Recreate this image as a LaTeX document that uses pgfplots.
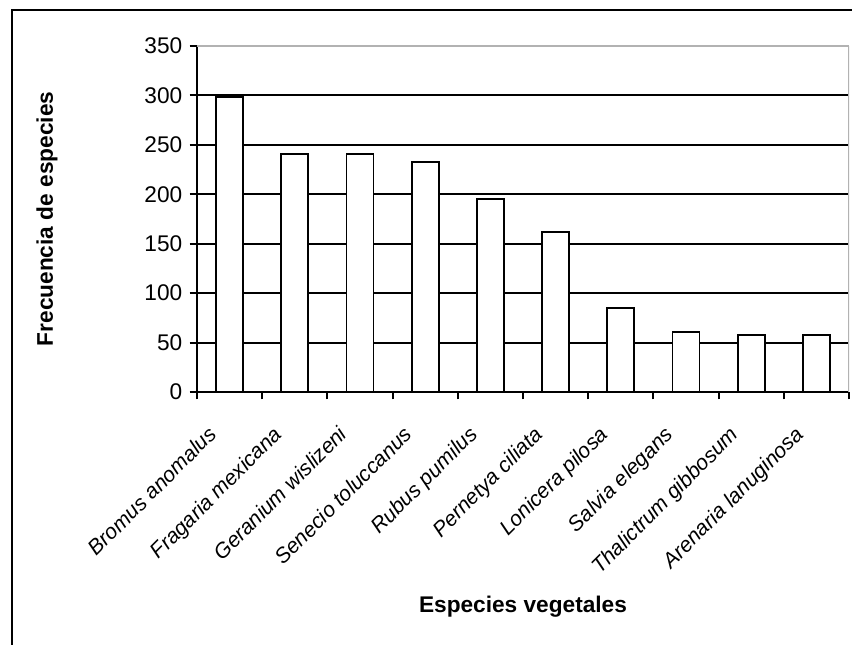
\documentclass[border=0pt]{standalone}
\usepackage{pgfplots}
\pgfplotsset{compat=1.18}
\usepackage{fontspec}
\setmainfont{Liberation Sans}
\begin{document}
\begin{tikzpicture}
\useasboundingbox (0pt,0pt) rectangle (639pt,-483.75pt);
\draw[line width=1.5pt] (9pt,-483.75pt) -- (9pt,-7.5pt) -- (639pt,-7.5pt);
\begin{axis}[
  at={(147.75pt,-294pt)}, anchor=south west,
  scale only axis, width=489pt, height=259.5pt,
  ybar, bar width=20.25pt,
  xmin=-0.5, xmax=9.5, ymin=0, ymax=350,
  axis x line*=bottom, axis y line*=left,
  axis line style={black, line width=1.4pt},
  /pgf/number format/assume math mode=true,
  ytick={0,50,...,300},
  extra y ticks={350},
  extra y tick style={grid style={gray!60, line width=1pt}},
  ymajorgrids, grid style={black, line width=1.4pt},
  tick align=outside, major tick length=5.5pt,
  tick style={black, line width=1.4pt},
  xtick={-0.5,0.5,...,9.5}, xticklabels={},
  extra x ticks={0,1,...,9},
  extra x tick labels={Bromus anomalus,Fragaria mexicana,Geranium wislizeni,Senecio toluccanus,Rubus pumilus,Pernetya ciliata,Lonicera pilosa,Salvia elegans,Thalictrum gibbosum,Arenaria lanuginosa},
  extra x tick style={major tick length=0pt},
  tick label style={font=\fontsize{17}{20}\selectfont},
  xticklabel style={font=\fontsize{15.9}{18}\selectfont\itshape, xshift=-17pt, yshift=-23pt, rotate=45, anchor=north east, inner sep=1pt},
  yticklabel style={anchor=east, xshift=-2pt},
  ylabel={Frecuencia de especies},
  xlabel={Especies vegetales},
  label style={font=\fontsize{17}{20}\selectfont\bfseries},
  ylabel style={at={(axis description cs:-0.230,0.5)}, anchor=center},
  xlabel style={at={(axis description cs:0.5,-0.621)}, anchor=center},
]
\addplot[fill=white, draw=black, line width=1.4pt] coordinates {(0,298) (1,241) (2,241) (3,233) (4,195) (5,162) (6,85) (7,61) (8,58) (9,58)};
\draw[gray!60, line width=1pt] (rel axis cs:1,0) -- (rel axis cs:1,1);
\end{axis}
\end{tikzpicture}
\end{document}
